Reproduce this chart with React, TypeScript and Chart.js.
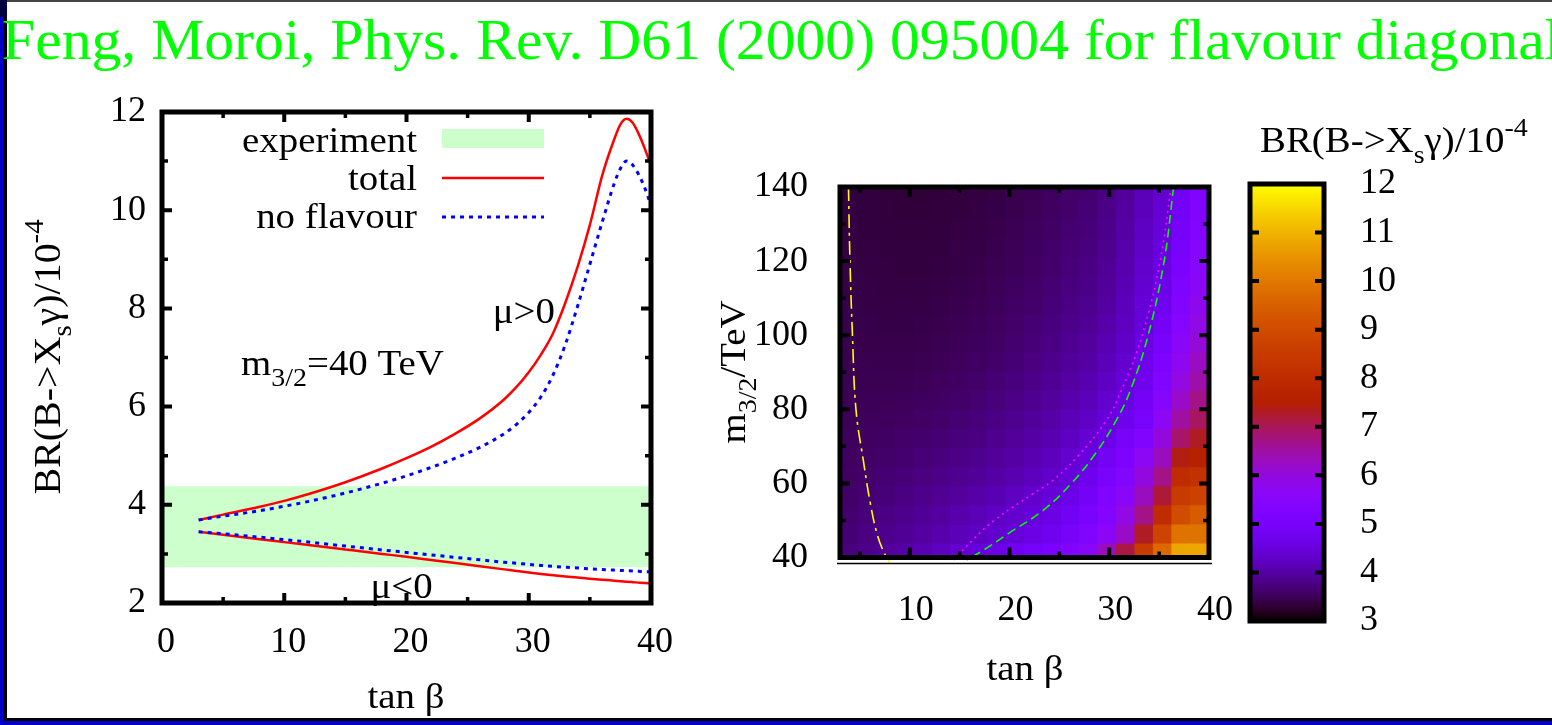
import React, { useEffect, useRef } from "react";
import { Chart, registerables } from "chart.js";

Chart.register(...registerables);

const FONT = "'Liberation Serif', 'Times New Roman', Times, serif";
const TEXT_STRETCH = 1.08;

// ---------- left panel: BR(B -> Xs gamma) against tan beta, m3/2 = 40 TeV ----------
const tanBeta = [3, 5, 8, 10, 12, 15, 18, 20, 22, 24, 26, 28, 29, 30, 31, 32, 33, 34, 35, 36, 37, 37.5, 38, 38.5, 39, 39.5, 40];
const totalMuPos = [3.69, 3.8, 3.96, 4.08, 4.22, 4.46, 4.74, 4.95, 5.18, 5.45, 5.76, 6.15, 6.4, 6.7, 7.06, 7.5, 8.12, 8.85, 9.7, 10.7, 11.45, 11.75, 11.86, 11.78, 11.55, 11.25, 10.9];
const noFlavourMuPos = [3.69, 3.77, 3.88, 3.97, 4.07, 4.24, 4.44, 4.59, 4.76, 4.95, 5.17, 5.45, 5.64, 5.88, 6.2, 6.65, 7.27, 8.05, 8.9, 9.75, 10.55, 10.85, 11.0, 10.92, 10.72, 10.45, 10.1];
const totalMuNeg = [3.45, 3.39, 3.3, 3.24, 3.18, 3.09, 3.0, 2.94, 2.877, 2.814, 2.75, 2.685, 2.652, 2.62, 2.592, 2.566, 2.541, 2.518, 2.496, 2.475, 2.455, 2.445, 2.435, 2.425, 2.415, 2.405, 2.395];
const noFlavourMuNeg = [3.45, 3.41, 3.34, 3.29, 3.24, 3.16, 3.08, 3.03, 2.98, 2.93, 2.88, 2.83, 2.81, 2.785, 2.765, 2.745, 2.728, 2.712, 2.697, 2.683, 2.67, 2.664, 2.658, 2.652, 2.646, 2.64, 2.635];
const experimentLow = 2.73;
const experimentHigh = 4.38;
const leftTanBetaRange = [0, 40];
const leftXTicks = [0, 10, 20, 30, 40];
const leftXMinor = [5, 15, 25, 35];
const leftYTicks = [2, 4, 6, 8, 10, 12];
const leftYMinor = [3, 5, 7, 9, 11];

// ---------- right panel: BR map over (tan beta, m3/2) ----------
const mapTanBetaEdges = [3, 4.85, 6.7, 8.55, 10.4, 12.25, 14.1, 15.95, 17.8, 19.65, 21.5, 23.35, 25.2, 27.05, 28.9, 30.75, 32.6, 34.45, 36.3, 38.15, 40];
const mapM32Edges = [40, 43.6, 48.75, 53.9, 59.05, 64.2, 69.35, 74.5, 79.65, 84.8, 89.95, 95.1, 100.25, 105.4, 110.55, 115.7, 120.85, 126, 131.15, 136.3, 140];
// one row per m3/2 band (lowest first), one value per tan beta band
const mapBR: number[][] = [
  [3.72, 3.83, 3.92, 4.01, 4.11, 4.22, 4.35, 4.48, 4.62, 4.77, 4.93, 5.1, 5.3, 5.6, 6.3, 7.1, 8.5, 9.7, 10.8, 10.8],
  [3.68, 3.76, 3.83, 3.9, 3.97, 4.06, 4.15, 4.25, 4.36, 4.47, 4.6, 4.75, 4.95, 5.25, 5.6, 6.2, 7.3, 8.8, 9.9, 9.9],
  [3.64, 3.71, 3.77, 3.83, 3.9, 3.97, 4.05, 4.14, 4.24, 4.35, 4.47, 4.6, 4.8, 5.05, 5.4, 5.9, 6.7, 8.0, 9.0, 9.4],
  [3.61, 3.66, 3.71, 3.76, 3.82, 3.88, 3.95, 4.03, 4.12, 4.22, 4.33, 4.45, 4.62, 4.88, 5.25, 5.6, 6.3, 7.2, 8.5, 8.7],
  [3.58, 3.62, 3.66, 3.7, 3.75, 3.8, 3.86, 3.93, 4.01, 4.1, 4.2, 4.3, 4.47, 4.7, 5.05, 5.35, 6.0, 6.7, 8.0, 8.2],
  [3.55, 3.58, 3.61, 3.65, 3.69, 3.73, 3.79, 3.85, 3.92, 4.0, 4.09, 4.19, 4.35, 4.52, 4.85, 5.15, 5.7, 6.3, 7.4, 7.6],
  [3.53, 3.55, 3.57, 3.6, 3.63, 3.67, 3.72, 3.78, 3.85, 3.92, 4.0, 4.1, 4.24, 4.4, 4.62, 4.95, 5.3, 6.0, 6.9, 7.3],
  [3.51, 3.52, 3.53, 3.55, 3.58, 3.62, 3.66, 3.72, 3.78, 3.85, 3.93, 4.02, 4.14, 4.27, 4.47, 4.7, 5.05, 5.7, 6.5, 6.95],
  [3.49, 3.49, 3.5, 3.51, 3.54, 3.57, 3.61, 3.66, 3.72, 3.79, 3.86, 3.95, 4.06, 4.17, 4.35, 4.55, 4.88, 5.5, 6.2, 6.7],
  [3.47, 3.47, 3.47, 3.48, 3.5, 3.53, 3.57, 3.61, 3.67, 3.73, 3.8, 3.89, 3.99, 4.08, 4.25, 4.45, 4.75, 5.3, 5.95, 6.45],
  [3.45, 3.45, 3.45, 3.45, 3.47, 3.5, 3.53, 3.57, 3.62, 3.68, 3.75, 3.83, 3.93, 4.01, 4.17, 4.36, 4.68, 5.15, 5.75, 6.25],
  [3.44, 3.43, 3.43, 3.43, 3.44, 3.47, 3.5, 3.54, 3.58, 3.64, 3.7, 3.78, 3.87, 3.95, 4.1, 4.28, 4.58, 5.0, 5.6, 6.05],
  [3.43, 3.42, 3.41, 3.41, 3.42, 3.44, 3.47, 3.51, 3.55, 3.6, 3.66, 3.74, 3.82, 3.9, 4.04, 4.21, 4.48, 4.9, 5.45, 5.9],
  [3.42, 3.4, 3.39, 3.39, 3.4, 3.42, 3.45, 3.48, 3.52, 3.57, 3.62, 3.7, 3.78, 3.85, 3.98, 4.18, 4.45, 4.75, 5.3, 5.78],
  [3.41, 3.39, 3.38, 3.37, 3.38, 3.4, 3.42, 3.45, 3.49, 3.54, 3.59, 3.66, 3.74, 3.8, 3.93, 4.12, 4.38, 4.65, 5.2, 5.65],
  [3.4, 3.38, 3.37, 3.36, 3.36, 3.38, 3.4, 3.43, 3.47, 3.51, 3.56, 3.63, 3.7, 3.77, 3.89, 4.07, 4.32, 4.55, 5.08, 5.55],
  [3.39, 3.37, 3.36, 3.35, 3.35, 3.36, 3.39, 3.41, 3.45, 3.49, 3.54, 3.6, 3.67, 3.73, 3.85, 4.03, 4.27, 4.5, 5.0, 5.45],
  [3.38, 3.36, 3.35, 3.34, 3.34, 3.35, 3.37, 3.4, 3.43, 3.47, 3.52, 3.58, 3.64, 3.7, 3.82, 3.99, 4.22, 4.45, 4.92, 5.38],
  [3.37, 3.35, 3.34, 3.33, 3.33, 3.34, 3.36, 3.38, 3.41, 3.45, 3.5, 3.56, 3.62, 3.68, 3.79, 3.96, 4.18, 4.42, 4.85, 5.3],
  [3.36, 3.35, 3.33, 3.32, 3.32, 3.33, 3.35, 3.37, 3.4, 3.44, 3.48, 3.54, 3.6, 3.65, 3.76, 3.93, 4.15, 4.38, 4.8, 5.25],
];
// boundary curves drawn over the map
const yellowTanBeta = [3.85, 4.0, 4.25, 4.6, 5.35, 6.05, 6.7, 7.3, 8.0];
const yellowM32 = [140, 120, 100, 80, 66, 54.5, 46.5, 42, 38.4];
const magentaTanBeta = [36.2, 35.1, 33.3, 31.2, 29.7, 26.8, 24.2, 22.4, 18.5, 16.4, 14.4];
const magentaM32 = [140, 120, 100, 85, 77, 67.2, 60.5, 57.3, 50.1, 45, 39.3];
const greenTanBeta = [36.45, 35.5, 33.9, 32.1, 30.7, 28.6, 26.2, 23.4, 19.9, 17.4, 15.7];
const greenM32 = [140, 120, 100, 85, 77, 68, 60, 52.8, 46.5, 42, 39.3];
const mapXTicks = [10, 20, 30, 40];
const mapXMinor = [5, 15, 25, 35];
const mapYTicks = [40, 60, 80, 100, 120, 140];
const mapYMinor = [50, 70, 90, 110, 130];

// ---------- colour box ----------
const colourRange = [3, 12];
const colourTicks = [3, 4, 5, 6, 7, 8, 9, 10, 11, 12];

type Seg = { t: string; s?: "sub" | "sup" };
const brLabel: Seg[] = [{ t: "BR(B->X" }, { t: "s", s: "sub" }, { t: "\u03b3)/10" }, { t: "-4", s: "sup" }];

// gnuplot default pm3d palette (rgbformulae 7,5,15)
function palette(t: number): string {
  const u = Math.min(1, Math.max(0, t));
  const r = Math.sqrt(u);
  const g = u * u * u;
  const b = Math.max(0, Math.sin(2 * Math.PI * u));
  return `rgb(${Math.round(r * 255)},${Math.round(g * 255)},${Math.round(b * 255)})`;
}
const colourFor = (v: number) => palette((v - colourRange[0]) / (colourRange[1] - colourRange[0]));

function drawRich(ctx: CanvasRenderingContext2D, segs: Seg[], x: number, y: number, size: number, align: "left" | "center" | "right", angle = 0, color = "#000") {
  ctx.save();
  ctx.translate(x, y);
  ctx.rotate(angle);
  ctx.scale(TEXT_STRETCH, 1);
  ctx.fillStyle = color;
  ctx.textBaseline = "alphabetic";
  ctx.textAlign = "left";
  const parts = segs.map((s) => {
    const sz = s.s ? size * 0.72 : size;
    ctx.font = `${sz}px ${FONT}`;
    return { ...s, sz, w: ctx.measureText(s.t).width };
  });
  const total = parts.reduce((a, p) => a + p.w, 0);
  let cx = align === "left" ? 0 : align === "right" ? -total : -total / 2;
  for (const p of parts) {
    ctx.font = `${p.sz}px ${FONT}`;
    const dy = p.s === "sub" ? size * 0.3 : p.s === "sup" ? -size * 0.45 : 0;
    ctx.fillText(p.t, cx, dy);
    cx += p.w;
  }
  ctx.restore();
}

type FrameCfg = { xMajor: number[]; xMinor: number[]; yMajor: number[]; yMinor: number[]; line: number; major: number; minor: number };
function framePlugin(id: string, cfg: FrameCfg) {
  return {
    id,
    afterDatasetsDraw(chart: any) {
      const { ctx, chartArea: a, scales } = chart;
      ctx.save();
      ctx.strokeStyle = "#000";
      ctx.lineCap = "butt";
      const xt = (vals: number[], len: number) => {
        for (const v of vals) {
          const p = scales.x.getPixelForValue(v);
          ctx.beginPath();
          ctx.moveTo(p, a.bottom);
          ctx.lineTo(p, a.bottom - len);
          ctx.moveTo(p, a.top);
          ctx.lineTo(p, a.top + len);
          ctx.stroke();
        }
      };
      const yt = (vals: number[], len: number) => {
        for (const v of vals) {
          const p = scales.y.getPixelForValue(v);
          ctx.beginPath();
          ctx.moveTo(a.left, p);
          ctx.lineTo(a.left + len, p);
          ctx.moveTo(a.right, p);
          ctx.lineTo(a.right - len, p);
          ctx.stroke();
        }
      };
      ctx.lineWidth = 4;
      xt(cfg.xMajor, cfg.major);
      yt(cfg.yMajor, cfg.major);
      ctx.lineWidth = 3.5;
      xt(cfg.xMinor, cfg.minor);
      yt(cfg.yMinor, cfg.minor);
      ctx.lineWidth = cfg.line;
      ctx.strokeRect(a.left, a.top, a.right - a.left, a.bottom - a.top);
      ctx.restore();
    },
  };
}

const tickFont = { family: FONT, size: 36 };
const fixTicks = (vals: number[]) => (s: any) => {
  s.ticks = vals.map((value) => ({ value }));
};

function leftConfig(): any {
  const pts = (ys: number[]) => tanBeta.map((x, i) => ({ x, y: ys[i] }));
  const curve = { pointRadius: 0, tension: 0.3, cubicInterpolationMode: "monotone", fill: false };
  const annotations = {
    id: "leftText",
    afterDraw(chart: any) {
      const { ctx, scales } = chart;
      const X = (v: number) => scales.x.getPixelForValue(v);
      const Y = (v: number) => scales.y.getPixelForValue(v);
      // key
      drawRich(ctx, [{ t: "experiment" }], 417, 152, 36, "right");
      drawRich(ctx, [{ t: "total" }], 417, 190, 36, "right");
      drawRich(ctx, [{ t: "no flavour" }], 417, 228, 36, "right");
      ctx.save();
      ctx.fillStyle = "#ccffcc";
      ctx.fillRect(442, 129, 102, 19);
      ctx.strokeStyle = "#ff0000";
      ctx.lineWidth = 2.5;
      ctx.beginPath();
      ctx.moveTo(442, 178);
      ctx.lineTo(544, 178);
      ctx.stroke();
      ctx.strokeStyle = "#0000ff";
      ctx.lineWidth = 3;
      ctx.setLineDash([4, 5]);
      ctx.beginPath();
      ctx.moveTo(442, 217);
      ctx.lineTo(544, 217);
      ctx.stroke();
      ctx.restore();
      // labels in data coordinates
      drawRich(ctx, [{ t: "\u03bc>0" }], X(29.6), Y(7.7), 36, "center");
      drawRich(ctx, [{ t: "m" }, { t: "3/2", s: "sub" }, { t: "=40 TeV" }], X(6.46), Y(6.64), 36, "left");
      drawRich(ctx, [{ t: "\u03bc<0" }], X(19.6), Y(2.1), 36, "center");
      // axis titles
      drawRich(ctx, [{ t: "tan \u03b2" }], 406, 708, 36, "center");
      drawRich(ctx, brLabel, 60, 357, 37, "center", -Math.PI / 2);
    },
  };
  return {
    type: "line",
    data: {
      datasets: [
        { label: "no flavour", data: pts(noFlavourMuPos), borderColor: "#0000ff", borderWidth: 3, borderDash: [4, 5], ...curve, order: 0 },
        { label: "no flavour mu<0", data: pts(noFlavourMuNeg), borderColor: "#0000ff", borderWidth: 3, borderDash: [4, 5], ...curve, order: 0 },
        { label: "total", data: pts(totalMuPos), borderColor: "#ff0000", borderWidth: 2.5, ...curve, order: 1 },
        { label: "total mu<0", data: pts(totalMuNeg), borderColor: "#ff0000", borderWidth: 2.5, ...curve, order: 1 },
        { label: "experiment low", data: leftTanBetaRange.map((x) => ({ x, y: experimentLow })), borderColor: "rgba(0,0,0,0)", borderWidth: 0, pointRadius: 0, fill: false, order: 5 },
        { label: "experiment", data: leftTanBetaRange.map((x) => ({ x, y: experimentHigh })), borderColor: "rgba(0,0,0,0)", borderWidth: 0, pointRadius: 0, fill: "-1", backgroundColor: "#ccffcc", order: 5 },
      ],
    },
    options: {
      responsive: false,
      animation: false,
      devicePixelRatio: 1,
      events: [],
      layout: { padding: { left: 0, top: 112, right: 1552 - 651, bottom: 0 } },
      plugins: { legend: { display: false }, tooltip: { enabled: false } },
      scales: {
        x: {
          type: "linear", min: leftTanBetaRange[0], max: leftTanBetaRange[1],
          grid: { display: false, drawTicks: false }, border: { display: false },
          ticks: { font: tickFont, color: "#000", padding: 18, labelOffset: 4, maxRotation: 0 },
          afterBuildTicks: fixTicks(leftXTicks),
          afterFit: (s: any) => { s.height = 725 - 603; },
        },
        y: {
          type: "linear", min: 2, max: 12,
          grid: { display: false, drawTicks: false }, border: { display: false },
          ticks: { font: tickFont, color: "#000", padding: 16 },
          afterBuildTicks: fixTicks(leftYTicks),
          afterFit: (s: any) => { s.width = 162; },
        },
      },
    },
    plugins: [framePlugin("leftFrame", { xMajor: leftXTicks, xMinor: leftXMinor, yMajor: leftYTicks, yMinor: leftYMinor, line: 5, major: 10, minor: 6 }), annotations],
  };
}

function mapConfig(): any {
  const cells = mapBR.map((row, j) => ({
    type: "bar",
    label: `m3/2 ${mapM32Edges[j]}-${mapM32Edges[j + 1]}`,
    data: row.map((_, i) => ({ x: (mapTanBetaEdges[i] + mapTanBetaEdges[i + 1]) / 2, y: [mapM32Edges[j], mapM32Edges[j + 1]] })),
    backgroundColor: row.map(colourFor),
    borderWidth: 0,
    inflateAmount: 0.7,
    barPercentage: 1,
    categoryPercentage: 1,
    grouped: false,
    order: 2,
  }));
  const curve = (xs: number[], ys: number[], color: string, dash: number[], label: string) => ({
    type: "line",
    label,
    data: xs.map((x, i) => ({ x, y: ys[i] })),
    borderColor: color,
    borderWidth: 1.6,
    borderDash: dash,
    pointRadius: 0,
    tension: 0.4,
    fill: false,
    clip: { left: 0, top: 0, right: 0, bottom: 7 },
    order: 0,
  });
  const text = {
    id: "mapText",
    afterDraw(chart: any) {
      const { ctx, chartArea: a } = chart;
      ctx.save();
      ctx.strokeStyle = "#000";
      ctx.lineWidth = 1.5;
      ctx.beginPath();
      ctx.moveTo(a.left - 3, a.bottom + 6);
      ctx.lineTo(a.right + 3, a.bottom + 6);
      ctx.stroke();
      ctx.restore();
      drawRich(ctx, [{ t: "tan \u03b2" }], 1025, 680, 36, "center");
      drawRich(ctx, [{ t: "m" }, { t: "3/2", s: "sub" }, { t: "/TeV" }], 745, 372, 36, "center", -Math.PI / 2);
    },
  };
  return {
    type: "bar",
    data: {
      datasets: [
        curve(yellowTanBeta, yellowM32, "#ffff00", [14, 5, 3, 5], "yellow"),
        curve(magentaTanBeta, magentaM32, "#ff00ff", [2, 4], "magenta"),
        curve(greenTanBeta, greenM32, "#00ff00", [9, 5], "green"),
        ...cells,
      ],
    },
    options: {
      responsive: false,
      animation: false,
      devicePixelRatio: 1,
      events: [],
      layout: { padding: { left: 0, top: 187, right: 1552 - 1209, bottom: 0 } },
      plugins: { legend: { display: false }, tooltip: { enabled: false } },
      scales: {
        x: {
          type: "linear", min: mapTanBetaEdges[0], max: mapTanBetaEdges[mapTanBetaEdges.length - 1], offset: false,
          grid: { display: false, drawTicks: false }, border: { display: false },
          ticks: { font: tickFont, color: "#000", padding: 31, labelOffset: 6, maxRotation: 0 },
          afterBuildTicks: fixTicks(mapXTicks),
          afterFit: (s: any) => { s.height = 725 - 557.5; },
        },
        y: {
          type: "linear", min: mapM32Edges[0], max: mapM32Edges[mapM32Edges.length - 1],
          grid: { display: false, drawTicks: false }, border: { display: false },
          ticks: { font: tickFont, color: "#000", padding: 32 },
          afterBuildTicks: fixTicks(mapYTicks),
          afterFit: (s: any) => { s.width = 840; },
        },
      },
    },
    plugins: [framePlugin("mapFrame", { xMajor: mapXTicks, xMinor: mapXMinor, yMajor: mapYTicks, yMinor: mapYMinor, line: 5, major: 10, minor: 6 }), text],
  };
}

function colourBoxConfig(): any {
  const title = {
    id: "boxText",
    afterDraw(chart: any) {
      drawRich(chart.ctx, brLabel, 1260, 152, 36, "left");
    },
  };
  return {
    type: "bar",
    data: {
      labels: ["BR"],
      datasets: [
        {
          label: "BR scale",
          data: [colourRange],
          borderWidth: 0,
          barPercentage: 1,
          categoryPercentage: 1,
          backgroundColor: (c: any) => {
            const chart = c.chart;
            if (!chart.chartArea) return "#000";
            const y = chart.scales.y;
            const g = chart.ctx.createLinearGradient(0, y.getPixelForValue(colourRange[0]), 0, y.getPixelForValue(colourRange[1]));
            for (let i = 0; i <= 60; i++) g.addColorStop(i / 60, palette(i / 60));
            return g;
          },
        },
      ],
    },
    options: {
      responsive: false,
      animation: false,
      devicePixelRatio: 1,
      events: [],
      layout: { padding: { left: 1250, top: 184, right: 0, bottom: 725 - 621 } },
      plugins: { legend: { display: false }, tooltip: { enabled: false } },
      scales: {
        x: { display: false },
        y: {
          type: "linear", position: "right", min: colourRange[0], max: colourRange[1],
          grid: { display: false, drawTicks: false }, border: { display: false },
          ticks: { font: tickFont, color: "#000", padding: 36 },
          afterBuildTicks: fixTicks(colourTicks),
          afterFit: (s: any) => { s.width = 1552 - 1324; },
        },
      },
    },
    plugins: [framePlugin("boxFrame", { xMajor: [], xMinor: [], yMajor: colourTicks, yMinor: [], line: 5, major: 9, minor: 5 }), title],
  };
}

const canvasStyle: React.CSSProperties = { position: "absolute", left: 0, top: 0, width: 1552, height: 725, display: "block" };

export default function App() {
  const leftRef = useRef<HTMLCanvasElement>(null);
  const mapRef = useRef<HTMLCanvasElement>(null);
  const boxRef = useRef<HTMLCanvasElement>(null);

  useEffect(() => {
    Chart.defaults.font.family = FONT;
    const charts = [
      new Chart(leftRef.current as HTMLCanvasElement, leftConfig()),
      new Chart(mapRef.current as HTMLCanvasElement, mapConfig()),
      new Chart(boxRef.current as HTMLCanvasElement, colourBoxConfig()),
    ];
    return () => charts.forEach((c) => c.destroy());
  }, []);

  return (
    <div style={{ position: "fixed", left: 0, top: 0, width: 1552, height: 725, overflow: "hidden", background: "#fff" }}>
      <canvas ref={leftRef} width={1552} height={725} style={canvasStyle} />
      <canvas ref={mapRef} width={1552} height={725} style={canvasStyle} />
      <canvas ref={boxRef} width={1552} height={725} style={canvasStyle} />
      {/* slide border */}
      <div style={{ position: "absolute", left: 0, top: 0, width: 1552, height: 2, background: "#444" }} />
      <div style={{ position: "absolute", left: 0, top: 0, width: 4, height: 725, background: "#0000c8" }} />
      <div style={{ position: "absolute", left: 4, top: 0, width: 3, height: 721, background: "#000" }} />
      <div style={{ position: "absolute", left: 0, top: 0, width: 7, height: 17, background: "#000040" }} />
      <div style={{ position: "absolute", left: 4, top: 718, width: 1548, height: 3, background: "#000" }} />
      <div style={{ position: "absolute", left: 0, top: 721, width: 1552, height: 4, background: "#0000c8" }} />
      <div
        style={{
          position: "absolute", left: 2, top: 11, fontFamily: FONT, fontSize: 57, lineHeight: "57px",
          color: "#00ff00", whiteSpace: "nowrap", transform: "scaleX(1.047)", transformOrigin: "0 0",
        }}
      >
        Feng, Moroi, Phys. Rev. D61 (2000) 095004 for flavour diagonal
      </div>
    </div>
  );
}
